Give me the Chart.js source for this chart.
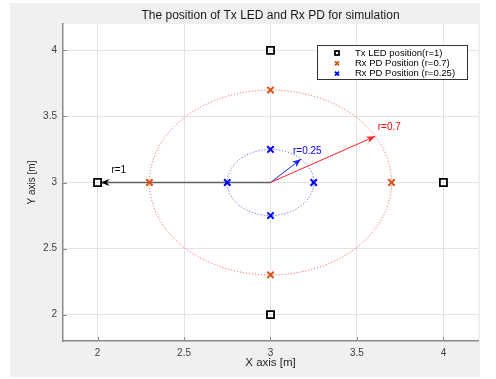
<!DOCTYPE html>
<html lang="en">
<head>
<meta charset="UTF-8">
<title>Tx LED and Rx PD positions</title>
<script src="https://cdn.jsdelivr.net/npm/chart.js"></script>
<style>
  body { margin: 0; background: #fff; }
  canvas { display: block; }
</style>
</head>
<body>
<canvas id="grafico" width="496" height="379"></canvas>
<script>
  // dados do grafico
  const txX = [2, 3, 4, 3];
  const txY = [3, 4, 3, 2];
  const rx07X = [2.3, 3, 3.7, 3];
  const rx07Y = [3, 3.7, 3, 2.3];
  const rx025X = [2.75, 3, 3.25, 3];
  const rx025Y = [3, 3.25, 3, 2.75];

  const circleCenter = [3, 3];
  const circleRadii = [0.7, 0.25];

  // setas: todas saem do centro
  const arrowFrom = [3, 3];
  const arrowToX = [2.017, 3.606, 3.177];
  const arrowToY = [3, 3.35, 3.177];

  const noteTexts = ['r=1', 'r=0.7', 'r=0.25'];
  const noteX = [2.08, 3.62, 3.13];
  const noteY = [3.09, 3.42, 3.24];

  const xTicks = [2, 2.5, 3, 3.5, 4];
  const yTicks = [2, 2.5, 3, 3.5, 4];

  const legendLabels = ['Tx LED position(r=1)', 'Rx PD Position (r=0.7)', 'Rx PD Position (r=0.25)'];

  const cores = { tx: '#000000', rx07: '#D95319', rx025: '#0000FF', c07: '#ff4a4a', c025: '#4a4aff', arrows: ['#606060', '#ff2020', '#2020ff'], notes: ['#000000', '#ff0000', '#0000ff'] };

  const familia = '"Liberation Sans", Arial, sans-serif';

  function pontos(xs, ys) {
    return xs.map((x, i) => ({ x: x, y: ys[i] }));
  }

  const fundo = {
    id: 'fundo',
    beforeDraw(chart) {
      const ctx = chart.ctx, a = chart.chartArea;
      ctx.save();
      ctx.fillStyle = '#ffffff';
      ctx.fillRect(0, 0, chart.width, chart.height);
      ctx.fillStyle = '#f0f0f0';
      ctx.fillRect(10, 3, 470, 374);
      ctx.fillStyle = '#ffffff';
      ctx.fillRect(a.left, a.top, a.right - a.left, a.bottom - a.top);
      ctx.restore();
    },
    beforeDatasetsDraw(chart) {
      const ctx = chart.ctx, sx = chart.scales.x, sy = chart.scales.y;
      const cx = sx.getPixelForValue(circleCenter[0]);
      const cy = sy.getPixelForValue(circleCenter[1]);
      const corC = [cores.c07, cores.c025];
      ctx.save();
      ctx.lineWidth = 1;
      ctx.setLineDash([1, 2]);
      circleRadii.forEach((r, i) => {
        const rx = Math.abs(sx.getPixelForValue(circleCenter[0] + r) - cx);
        const ry = Math.abs(sy.getPixelForValue(circleCenter[1] + r) - cy);
        ctx.strokeStyle = corC[i];
        ctx.beginPath();
        ctx.ellipse(cx, cy, rx, ry, 0, 0, Math.PI * 2);
        ctx.stroke();
      });
      ctx.restore();
    },
    afterDatasetsDraw(chart) {
      const ctx = chart.ctx, sx = chart.scales.x, sy = chart.scales.y, a = chart.chartArea;
      ctx.save();
      // pontas das setas
      const x0 = sx.getPixelForValue(arrowFrom[0]);
      const y0 = sy.getPixelForValue(arrowFrom[1]);
      arrowToX.forEach((v, i) => {
        const x1 = sx.getPixelForValue(v);
        const y1 = sy.getPixelForValue(arrowToY[i]);
        const ang = Math.atan2(y1 - y0, x1 - x0);
        const L = 9, W = 3.5;
        ctx.fillStyle = i === 0 ? '#000' : cores.arrows[i];
        ctx.beginPath();
        ctx.moveTo(x1, y1);
        ctx.lineTo(x1 - L * Math.cos(ang) - W * Math.sin(ang), y1 - L * Math.sin(ang) + W * Math.cos(ang));
        ctx.lineTo(x1 - 0.7 * L * Math.cos(ang), y1 - 0.7 * L * Math.sin(ang));
        ctx.lineTo(x1 - L * Math.cos(ang) + W * Math.sin(ang), y1 - L * Math.sin(ang) - W * Math.cos(ang));
        ctx.closePath();
        ctx.fill();
      });
      // textos
      ctx.font = '10px ' + familia;
      ctx.textBaseline = 'middle';
      ctx.textAlign = 'left';
      noteTexts.forEach((t, i) => {
        ctx.fillStyle = cores.notes[i];
        ctx.fillText(t, sx.getPixelForValue(noteX[i]), sy.getPixelForValue(noteY[i]));
      });
      // marcas dos eixos (para dentro)
      ctx.strokeStyle = '#8a8a8a';
      ctx.lineWidth = 1;
      ctx.beginPath();
      xTicks.forEach(v => {
        const px = Math.round(sx.getPixelForValue(v)) + 0.5;
        ctx.moveTo(px, a.bottom);
        ctx.lineTo(px, a.bottom - 4);
      });
      yTicks.forEach(v => {
        const py = Math.round(sy.getPixelForValue(v)) + 0.5;
        ctx.moveTo(a.left, py);
        ctx.lineTo(a.left + 4, py);
      });
      ctx.stroke();
      ctx.restore();
    },
    afterDraw(chart) {
      // legenda
      const ctx = chart.ctx;
      const bx = 317, by = 45, bw = 150, bh = 34;
      ctx.save();
      ctx.fillStyle = '#ffffff';
      ctx.fillRect(bx, by, bw, bh);
      ctx.strokeStyle = '#333333';
      ctx.lineWidth = 1;
      ctx.strokeRect(bx + 0.5, by + 0.5, bw, bh);
      const ds = chart.data.datasets;
      ctx.font = '9.5px ' + familia;
      ctx.textBaseline = 'middle';
      legendLabels.forEach((t, i) => {
        const yy = by + 8 + i * 10.3;
        ctx.strokeStyle = ds[i].borderColor;
        ctx.lineWidth = 1.8;
        ctx.beginPath();
        if (i === 0) {
          ctx.strokeRect(335, yy - 2, 4, 4);
        } else {
          ctx.moveTo(335, yy - 2); ctx.lineTo(339, yy + 2);
          ctx.moveTo(335, yy + 2); ctx.lineTo(339, yy - 2);
          ctx.stroke();
        }
        ctx.fillStyle = '#000';
        ctx.fillText(t, 355, yy);
      });
      ctx.restore();
    }
  };

  const dados = {
    datasets: [
      {
        label: legendLabels[0],
        data: pontos(txX, txY),
        pointStyle: 'rect',
        pointRadius: 5,
        borderColor: cores.tx,
        backgroundColor: 'rgba(0,0,0,0)',
        pointBorderWidth: 1.8,
        showLine: false,
        order: 1
      },
      {
        label: legendLabels[1],
        data: pontos(rx07X, rx07Y),
        pointStyle: 'crossRot',
        pointRadius: 4.5,
        borderColor: cores.rx07,
        backgroundColor: cores.rx07,
        pointBorderWidth: 2,
        showLine: false,
        order: 1
      },
      {
        label: legendLabels[2],
        data: pontos(rx025X, rx025Y),
        pointStyle: 'crossRot',
        pointRadius: 4.5,
        borderColor: cores.rx025,
        backgroundColor: cores.rx025,
        pointBorderWidth: 2,
        showLine: false,
        order: 1
      }
    ]
  };

  // hastes das setas
  arrowToX.forEach((v, i) => {
    dados.datasets.push({
      label: 'seta' + i,
      data: [{ x: arrowFrom[0], y: arrowFrom[1] }, { x: v, y: arrowToY[i] }],
      showLine: true,
      pointRadius: 0,
      borderColor: cores.arrows[i],
      borderWidth: i === 0 ? 1.6 : 1,
      order: 2
    });
  });

  const fonteTick = { family: familia, size: 10 };

  const config = {
    type: 'scatter',
    data: dados,
    options: {
      responsive: false,
      devicePixelRatio: 1,
      animation: false,
      events: [],
      layout: { padding: { left: 10, right: 18, top: 0, bottom: 0 } },
      plugins: {
        legend: { display: false },
        tooltip: { enabled: false },
        title: {
          display: true,
          fullSize: false,
          text: 'The position of Tx LED and Rx PD for simulation',
          color: '#1a1a1a',
          font: { family: familia, size: 12, weight: 'normal' },
          padding: { top: 8, bottom: 1.6 }
        }
      },
      scales: {
        x: {
          type: 'linear',
          min: 1.8,
          max: 4.2,
          afterBuildTicks: s => { s.ticks = xTicks.map(v => ({ value: v })); },
          afterFit: s => { s.height = 38; },
          ticks: { color: '#404040', font: fonteTick, padding: 6, callback: v => String(v) },
          grid: { color: '#e4e4e4', drawTicks: false },
          border: { color: '#8a8a8a', width: 1.5 },
          title: { display: true, text: 'X axis [m]', color: '#262626', font: { family: familia, size: 11.5 }, padding: { top: 0, bottom: 9 } }
        },
        y: {
          type: 'linear',
          min: 1.8,
          max: 4.2,
          afterBuildTicks: s => { s.ticks = yTicks.map(v => ({ value: v })); },
          afterFit: s => { s.width = 53; },
          ticks: { color: '#404040', font: fonteTick, padding: 6, callback: v => String(v) },
          grid: { color: '#e4e4e4', drawTicks: false },
          border: { color: '#8a8a8a', width: 1.5 },
          title: { display: true, text: 'Y axis [m]', color: '#262626', font: { family: familia, size: 10 }, padding: { top: 16, bottom: 0 } }
        }
      }
    },
    plugins: [fundo]
  };

  const meuGrafico = new Chart(document.getElementById('grafico'), config);
</script>
</body>
</html>
